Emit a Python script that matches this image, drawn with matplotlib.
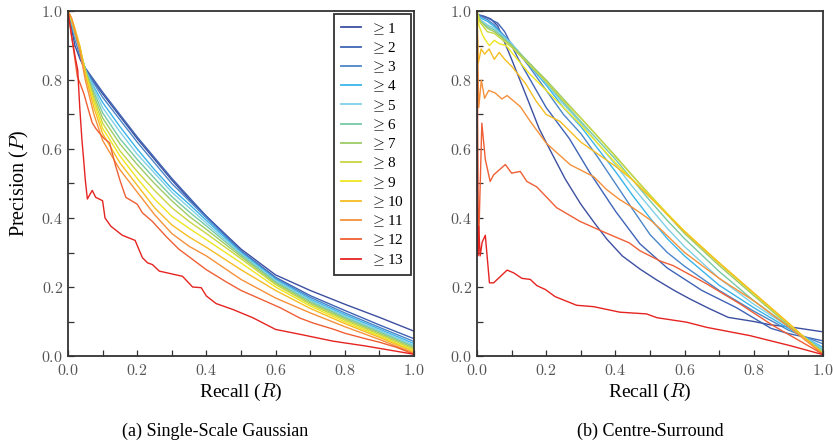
import matplotlib
matplotlib.use("Agg")
import matplotlib.pyplot as plt
from matplotlib.ticker import MultipleLocator, FuncFormatter

plt.rcParams['font.family'] = ['Liberation Serif', 'DejaVu Serif']
plt.rcParams['mathtext.fontset'] = 'cm'

labels = [r'$\geq$' + str(i) for i in range(1, 14)]
colors = ['#3c4fa0', '#3f63b5', '#4b86c8', '#3ab4ea', '#80d0e6', '#76c9a5', '#9dcb68',
          '#c8d641', '#efe521', '#f6bd22', '#f5913a', '#ef5f35', '#e52421']

# ---------------- (a) Single-Scale Gaussian ----------------
ssg_recall = [0, 0.01, 0.02, 0.035, 0.05, 0.075, 0.1, 0.15, 0.2, 0.25, 0.3, 0.35, 0.4,
              0.5, 0.6, 0.7, 0.8, 0.9, 1.0]
ssg_p1 = [1.0, 0.95, 0.90, 0.86, 0.83, 0.795, 0.76, 0.695, 0.63, 0.57, 0.51, 0.455, 0.405, 0.31, 0.235, 0.19, 0.15, 0.112, 0.072]
ssg_p2 = [1.0, 0.96, 0.92, 0.87, 0.835, 0.80, 0.765, 0.70, 0.635, 0.575, 0.515, 0.46, 0.405, 0.305, 0.228, 0.175, 0.132, 0.09, 0.05]
ssg_p3 = [1.0, 0.96, 0.92, 0.87, 0.83, 0.79, 0.75, 0.685, 0.62, 0.56, 0.50, 0.45, 0.40, 0.303, 0.225, 0.17, 0.125, 0.083, 0.042]
ssg_p4 = [1.0, 0.97, 0.93, 0.88, 0.83, 0.78, 0.735, 0.665, 0.60, 0.54, 0.485, 0.44, 0.393, 0.30, 0.222, 0.165, 0.12, 0.078, 0.036]
ssg_p5 = [1.0, 0.97, 0.93, 0.88, 0.83, 0.775, 0.72, 0.65, 0.585, 0.53, 0.475, 0.43, 0.385, 0.297, 0.219, 0.162, 0.116, 0.074, 0.031]
ssg_p6 = [1.0, 0.97, 0.935, 0.885, 0.83, 0.765, 0.705, 0.63, 0.57, 0.515, 0.462, 0.418, 0.377, 0.293, 0.215, 0.158, 0.112, 0.07, 0.027]
ssg_p7 = [1.0, 0.975, 0.94, 0.89, 0.83, 0.755, 0.69, 0.615, 0.555, 0.50, 0.45, 0.405, 0.367, 0.288, 0.211, 0.154, 0.108, 0.066, 0.023]
ssg_p8 = [1.0, 0.975, 0.94, 0.89, 0.825, 0.745, 0.675, 0.595, 0.535, 0.48, 0.43, 0.39, 0.355, 0.282, 0.207, 0.15, 0.104, 0.062, 0.019]
ssg_p9 = [1.0, 0.975, 0.945, 0.895, 0.82, 0.735, 0.66, 0.58, 0.515, 0.455, 0.405, 0.37, 0.337, 0.27, 0.20, 0.145, 0.099, 0.058, 0.015]
ssg_p10 = [1.0, 0.98, 0.95, 0.895, 0.815, 0.72, 0.645, 0.56, 0.495, 0.43, 0.38, 0.345, 0.315, 0.25, 0.19, 0.138, 0.094, 0.054, 0.012]
ssg_p11 = [1.0, 0.98, 0.94, 0.88, 0.80, 0.70, 0.625, 0.54, 0.475, 0.41, 0.355, 0.318, 0.29, 0.222, 0.168, 0.125, 0.085, 0.048, 0.008]
ssg_r12 = [0, 0.01, 0.02, 0.027, 0.035, 0.046, 0.06, 0.07, 0.08, 0.09, 0.105, 0.12, 0.13, 0.138, 0.15, 0.167,
           0.2, 0.215, 0.244, 0.283, 0.32, 0.36, 0.40, 0.457, 0.50, 0.55, 0.613, 0.67, 0.71, 0.766, 0.8, 0.86, 0.9, 0.95, 1.0]
ssg_p12 = [1.0, 0.93, 0.86, 0.81, 0.79, 0.76, 0.71, 0.676, 0.66, 0.647, 0.63, 0.618, 0.58, 0.55, 0.51, 0.46,
           0.44, 0.415, 0.39, 0.347, 0.31, 0.28, 0.25, 0.215, 0.19, 0.168, 0.14, 0.11, 0.095, 0.078, 0.066, 0.05, 0.04, 0.025, 0.005]
ssg_r13 = [0, 0.01, 0.015, 0.022, 0.028, 0.034, 0.04, 0.046, 0.05, 0.056, 0.07, 0.08, 0.1, 0.107, 0.124, 0.157,
           0.194, 0.215, 0.23, 0.244, 0.264, 0.331, 0.36, 0.385, 0.40, 0.428, 0.476, 0.534, 0.60, 0.67, 0.766, 0.86, 1.0]
ssg_p13 = [1.0, 0.93, 0.90, 0.86, 0.83, 0.72, 0.63, 0.56, 0.51, 0.455, 0.48, 0.46, 0.45, 0.40, 0.376, 0.35,
           0.335, 0.285, 0.27, 0.265, 0.246, 0.231, 0.20, 0.198, 0.174, 0.152, 0.135, 0.111, 0.077, 0.063, 0.043, 0.029, 0.005]

# ---------------- (b) Centre-Surround ----------------
cs_r1 = [0, 0.02, 0.04, 0.06, 0.1, 0.14, 0.18, 0.22, 0.255, 0.3, 0.34, 0.375, 0.42, 0.471, 0.52, 0.57,
         0.616, 0.67, 0.726, 0.8, 0.85, 0.9, 1.0]
cs_p1 = [0.99, 0.985, 0.977, 0.957, 0.86, 0.76, 0.658, 0.58, 0.513, 0.44, 0.385, 0.339, 0.29, 0.252, 0.22, 0.19,
         0.165, 0.138, 0.112, 0.10, 0.09, 0.085, 0.07]
cs_r2 = [0, 0.03, 0.06, 0.08, 0.12, 0.2, 0.267, 0.327, 0.4, 0.471, 0.55, 0.65, 0.75, 0.85, 0.9, 1.0]
cs_p2 = [0.99, 0.98, 0.965, 0.94, 0.86, 0.72, 0.63, 0.53, 0.42, 0.325, 0.255, 0.19, 0.14, 0.08, 0.065, 0.044]
cs_recall = [0, 0.01, 0.03, 0.05, 0.1, 0.15, 0.2, 0.25, 0.3, 0.35, 0.4, 0.45, 0.5, 0.55, 0.6, 0.7, 0.8, 0.9, 1.0]
cs_p3 = [0.99, 0.985, 0.975, 0.96, 0.905, 0.84, 0.77, 0.70, 0.645, 0.575, 0.50, 0.425, 0.352, 0.30, 0.26, 0.19, 0.13, 0.075, 0.035]
cs_p4 = [0.99, 0.98, 0.97, 0.955, 0.905, 0.845, 0.785, 0.72, 0.665, 0.60, 0.535, 0.465, 0.40, 0.34, 0.29, 0.205, 0.14, 0.08, 0.025]
cs_p5 = [0.985, 0.975, 0.96, 0.95, 0.905, 0.85, 0.79, 0.73, 0.675, 0.615, 0.555, 0.49, 0.43, 0.37, 0.317, 0.225, 0.15, 0.085, 0.02]
cs_p6 = [0.98, 0.97, 0.955, 0.945, 0.90, 0.85, 0.795, 0.735, 0.68, 0.625, 0.57, 0.51, 0.45, 0.393, 0.34, 0.245, 0.16, 0.087, 0.015]
cs_p7 = [1.0, 0.97, 0.95, 0.94, 0.90, 0.85, 0.80, 0.745, 0.69, 0.635, 0.58, 0.522, 0.465, 0.41, 0.355, 0.262, 0.175, 0.09, 0.01]
cs_p8 = [1.0, 0.965, 0.94, 0.935, 0.895, 0.845, 0.795, 0.74, 0.69, 0.635, 0.578, 0.522, 0.467, 0.413, 0.36, 0.268, 0.18, 0.093, 0.008]
cs_r9 = [0, 0.005, 0.016, 0.028, 0.036, 0.05, 0.065, 0.084, 0.1, 0.15, 0.2, 0.25, 0.3, 0.35, 0.4, 0.45, 0.5,
         0.6, 0.7, 0.8, 0.9, 1.0]
cs_p9 = [1.0, 0.96, 0.93, 0.91, 0.90, 0.915, 0.905, 0.90, 0.88, 0.82, 0.77, 0.72, 0.67, 0.615, 0.56, 0.51, 0.462,
         0.362, 0.27, 0.182, 0.095, 0.006]
cs_r10 = [0, 0.004, 0.012, 0.022, 0.035, 0.05, 0.064, 0.08, 0.1, 0.14, 0.17, 0.2, 0.24, 0.3, 0.35, 0.4, 0.45,
          0.5, 0.6, 0.7, 0.8, 0.9, 1.0]
cs_p10 = [1.0, 0.85, 0.89, 0.875, 0.89, 0.86, 0.88, 0.86, 0.84, 0.79, 0.74, 0.70, 0.68, 0.62, 0.585, 0.55, 0.51,
          0.46, 0.36, 0.27, 0.183, 0.096, 0.005]
cs_r11 = [0, 0.005, 0.0125, 0.022, 0.034, 0.053, 0.072, 0.087, 0.125, 0.154, 0.2, 0.27, 0.337, 0.375, 0.413,
          0.45, 0.5, 0.53, 0.6, 0.7, 0.8, 0.9, 1.0]
cs_p11 = [1.0, 0.72, 0.80, 0.747, 0.77, 0.762, 0.745, 0.755, 0.723, 0.68, 0.617, 0.554, 0.52, 0.482, 0.453,
          0.43, 0.395, 0.368, 0.30, 0.225, 0.16, 0.085, 0.005]
cs_r12 = [0, 0.004, 0.014, 0.024, 0.038, 0.048, 0.082, 0.1, 0.125, 0.144, 0.173, 0.23, 0.298, 0.365, 0.44,
          0.471, 0.53, 0.567, 0.664, 0.76, 0.856, 1.0]
cs_p12 = [1.0, 0.30, 0.675, 0.57, 0.506, 0.525, 0.555, 0.53, 0.535, 0.506, 0.49, 0.43, 0.39, 0.36, 0.328,
          0.305, 0.275, 0.262, 0.209, 0.151, 0.088, 0.005]
cs_r13 = [0, 0.002, 0.005, 0.009, 0.015, 0.024, 0.036, 0.048, 0.087, 0.106, 0.13, 0.154, 0.173, 0.197, 0.226,
          0.288, 0.337, 0.413, 0.49, 0.52, 0.606, 0.664, 0.789, 0.905, 1.0]
cs_p13 = [1.0, 0.29, 0.376, 0.29, 0.33, 0.35, 0.212, 0.212, 0.249, 0.241, 0.225, 0.222, 0.204, 0.193, 0.172,
          0.147, 0.143, 0.127, 0.122, 0.111, 0.098, 0.083, 0.059, 0.03, 0.004]

ssg_series = [(ssg_recall, ssg_p1), (ssg_recall, ssg_p2), (ssg_recall, ssg_p3), (ssg_recall, ssg_p4),
              (ssg_recall, ssg_p5), (ssg_recall, ssg_p6), (ssg_recall, ssg_p7), (ssg_recall, ssg_p8),
              (ssg_recall, ssg_p9), (ssg_recall, ssg_p10), (ssg_recall, ssg_p11), (ssg_r12, ssg_p12),
              (ssg_r13, ssg_p13)]
cs_series = [(cs_r1, cs_p1), (cs_r2, cs_p2), (cs_recall, cs_p3), (cs_recall, cs_p4), (cs_recall, cs_p5),
             (cs_recall, cs_p6), (cs_recall, cs_p7), (cs_recall, cs_p8), (cs_r9, cs_p9), (cs_r10, cs_p10),
             (cs_r11, cs_p11), (cs_r12, cs_p12), (cs_r13, cs_p13)]

fig = plt.figure(figsize=(8.33, 4.46), dpi=100)
ax1 = fig.add_axes([68 / 833, 90 / 446, 346 / 833, 345 / 446])
ax2 = fig.add_axes([477 / 833, 90 / 446, 346 / 833, 345 / 446])

fmt = FuncFormatter(lambda v, p: r'$%.1f$' % v)

for ax, series in ((ax1, ssg_series), (ax2, cs_series)):
    for (r, p), c, lab in zip(series, colors, labels):
        ax.plot(r, p, color=c, lw=1.0, label=lab)
    ax.set_xlim(0, 1)
    ax.set_ylim(0, 1)
    ax.xaxis.set_major_locator(MultipleLocator(0.2))
    ax.yaxis.set_major_locator(MultipleLocator(0.2))
    ax.xaxis.set_minor_locator(MultipleLocator(0.1))
    ax.yaxis.set_minor_locator(MultipleLocator(0.1))
    ax.xaxis.set_major_formatter(fmt)
    ax.yaxis.set_major_formatter(fmt)
    ax.tick_params(which='both', direction='in', length=4, width=0.9, color='#333333',
                   labelcolor='#555555', labelsize=11.5, top=False, right=False)
    ax.tick_params(axis='x', pad=5)
    for s in ax.spines.values():
        s.set_color('#333333')
        s.set_linewidth(1.3)
    ax.set_xlabel(r'Recall ($R$)', fontsize=14, labelpad=2)

ax1.set_ylabel(r'Precision ($P$)', fontsize=14.5, labelpad=7)

leg = ax1.legend(loc='upper right', fontsize=11, frameon=True, fancybox=False,
                 borderaxespad=0.2, labelspacing=0.24, handlelength=1.3, handletextpad=0.6,
                 borderpad=0.45)
leg.get_frame().set_edgecolor('black')
leg.get_frame().set_linewidth(1.3)
for h in leg.get_lines():
    h.set_linewidth(1.3)

fig.text(215 / 833, 1 - 431 / 446, '(a) Single-Scale Gaussian', ha='center', va='center', fontsize=13)
fig.text(650 / 833, 1 - 431 / 446, '(b) Centre-Surround', ha='center', va='center', fontsize=13)

fig.savefig('out.png', dpi=100)
